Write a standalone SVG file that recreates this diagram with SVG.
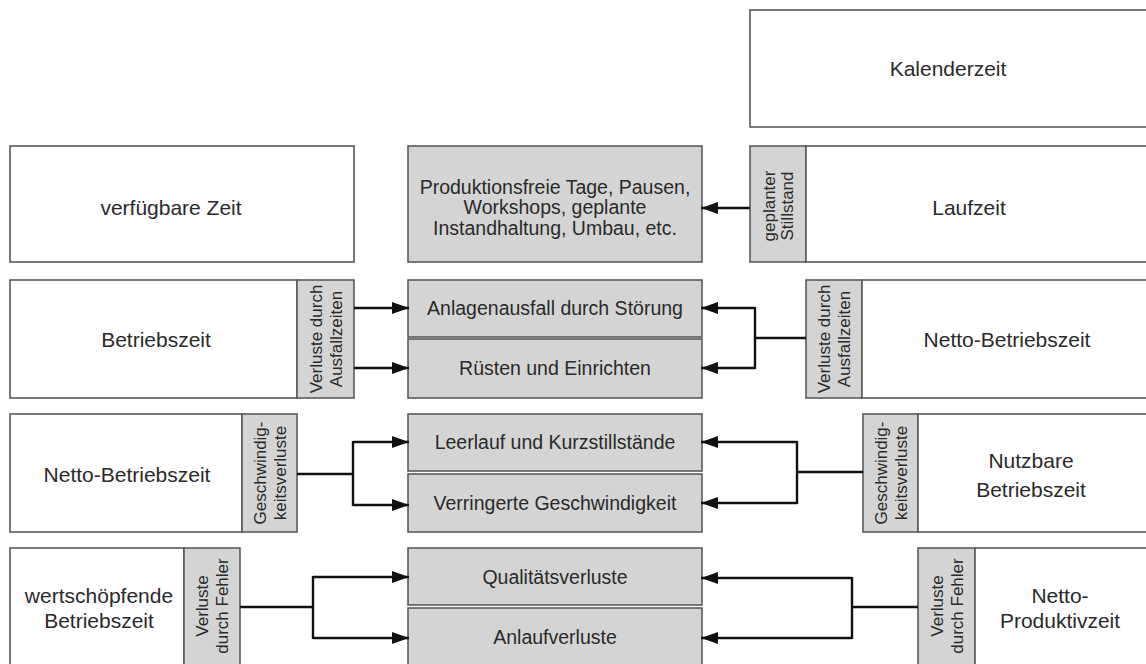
<svg xmlns="http://www.w3.org/2000/svg" width="1146" height="664" viewBox="0 0 1146 664">
  <defs>
    <marker id="arrow" markerUnits="userSpaceOnUse" markerWidth="18" markerHeight="14" refX="17" refY="7" orient="auto">
      <path d="M0,1 L17,7 L0,13 z" fill="#111"/>
    </marker>
    <style>
      .box { fill: #ffffff; stroke: #5a5a5a; stroke-width: 1.6; }
      .loss { fill: #d4d4d4; stroke: #5a5a5a; stroke-width: 1.6; }
      .main { font-family: "Liberation Sans", Arial, sans-serif; font-size: 21px; fill: #2a2a2a; text-anchor: middle; }
      .cause { font-family: "Liberation Sans", Arial, sans-serif; font-size: 19.5px; fill: #2a2a2a; text-anchor: middle; }
      .tag { font-family: "Liberation Sans", Arial, sans-serif; font-size: 17px; fill: #2a2a2a; text-anchor: middle; }
      .link { fill: none; stroke: #111; stroke-width: 2.4; }
      .arr { fill: none; stroke: #111; stroke-width: 2.4; marker-end: url(#arrow); }
    </style>
  </defs>
  <rect width="1146" height="664" fill="#ffffff"/>

  <!-- row 1 -->
  <g id="kalenderzeit">
    <rect class="box" x="750" y="10" width="400" height="117"/>
    <text class="main" x="948" y="76">Kalenderzeit</text>
  </g>
  <g id="verfuegbare-zeit">
    <rect class="box" x="10" y="146" width="344" height="116"/>
    <text class="main" x="171" y="215">verfügbare Zeit</text>
  </g>
  <g id="produktionsfreie-tage">
    <rect class="loss" x="408" y="146" width="294" height="116"/>
    <text class="cause" x="555" y="194">Produktionsfreie Tage, Pausen,</text>
    <text class="cause" x="555" y="214">Workshops, geplante</text>
    <text class="cause" x="555" y="235">Instandhaltung, Umbau, etc.</text>
  </g>
  <g id="laufzeit">
    <rect class="loss" x="750" y="146" width="56" height="116"/>
    <rect class="box" x="806" y="146" width="344" height="116"/>
    <g transform="translate(778,206) rotate(-90)">
      <text class="tag" x="0" y="-3">geplanter</text>
      <text class="tag" x="0" y="15">Stillstand</text>
    </g>
    <text class="main" x="969" y="215">Laufzeit</text>
  </g>

  <!-- row 2 -->
  <g id="betriebszeit">
    <rect class="box" x="10" y="280" width="287" height="118"/>
    <rect class="loss" x="297" y="280" width="57" height="118"/>
    <text class="main" x="156" y="347">Betriebszeit</text>
    <g transform="translate(325.5,339) rotate(-90)">
      <text class="tag" x="0" y="-4">Verluste durch</text>
      <text class="tag" x="0" y="16">Ausfallzeiten</text>
    </g>
  </g>
  <g id="anlagenausfall">
    <rect class="loss" x="408" y="280" width="294" height="57"/>
    <text class="cause" x="555" y="315">Anlagenausfall durch Störung</text>
  </g>
  <g id="ruesten">
    <rect class="loss" x="408" y="339" width="294" height="59"/>
    <text class="cause" x="555" y="375">Rüsten und Einrichten</text>
  </g>
  <g id="netto-betriebszeit-a">
    <rect class="loss" x="806" y="280" width="56" height="118"/>
    <rect class="box" x="862" y="280" width="288" height="118"/>
    <g transform="translate(834,339) rotate(-90)">
      <text class="tag" x="0" y="-4">Verluste durch</text>
      <text class="tag" x="0" y="16">Ausfallzeiten</text>
    </g>
    <text class="main" x="1007" y="347">Netto-Betriebszeit</text>
  </g>

  <!-- row 3 -->
  <g id="netto-betriebszeit-b">
    <rect class="box" x="10" y="414" width="232" height="118"/>
    <rect class="loss" x="242" y="414" width="55" height="118"/>
    <text class="main" x="127" y="482">Netto-Betriebszeit</text>
    <g transform="translate(269.5,473) rotate(-90)">
      <text class="tag" x="0" y="-4">Geschwindig-</text>
      <text class="tag" x="0" y="16">keitsverluste</text>
    </g>
  </g>
  <g id="leerlauf">
    <rect class="loss" x="408" y="414" width="294" height="57"/>
    <text class="cause" x="555" y="449">Leerlauf und Kurzstillstände</text>
  </g>
  <g id="verringerte-geschwindigkeit">
    <rect class="loss" x="408" y="474" width="294" height="58"/>
    <text class="cause" x="555" y="510">Verringerte Geschwindigkeit</text>
  </g>
  <g id="nutzbare-betriebszeit">
    <rect class="loss" x="863" y="414" width="55" height="118"/>
    <rect class="box" x="918" y="414" width="232" height="118"/>
    <g transform="translate(890.5,473) rotate(-90)">
      <text class="tag" x="0" y="-4">Geschwindig-</text>
      <text class="tag" x="0" y="16">keitsverluste</text>
    </g>
    <text class="main" x="1031" y="468">Nutzbare</text>
    <text class="main" x="1031" y="497">Betriebszeit</text>
  </g>

  <!-- row 4 -->
  <g id="wertschoepfende-betriebszeit">
    <rect class="box" x="10" y="548" width="174" height="130"/>
    <rect class="loss" x="184" y="548" width="56" height="130"/>
    <text class="main" x="99" y="603">wertschöpfende</text>
    <text class="main" x="99" y="628">Betriebszeit</text>
    <g transform="translate(212,606) rotate(-90)">
      <text class="tag" x="0" y="-4">Verluste</text>
      <text class="tag" x="0" y="16">durch Fehler</text>
    </g>
  </g>
  <g id="qualitaetsverluste">
    <rect class="loss" x="408" y="548" width="294" height="57"/>
    <text class="cause" x="555" y="584">Qualitätsverluste</text>
  </g>
  <g id="anlaufverluste">
    <rect class="loss" x="408" y="608" width="294" height="70"/>
    <text class="cause" x="555" y="644">Anlaufverluste</text>
  </g>
  <g id="netto-produktivzeit">
    <rect class="loss" x="918" y="548" width="57" height="130"/>
    <rect class="box" x="975" y="548" width="175" height="130"/>
    <g transform="translate(946.5,606) rotate(-90)">
      <text class="tag" x="0" y="-4">Verluste</text>
      <text class="tag" x="0" y="16">durch Fehler</text>
    </g>
    <text class="main" x="1060" y="603">Netto-</text>
    <text class="main" x="1060" y="628">Produktivzeit</text>
  </g>

  <!-- connectors -->
  <g id="connectors">
    <path class="arr" d="M750,208 H701"/>

    <path class="arr" d="M354,308 H409"/>
    <path class="arr" d="M354,368 H409"/>
    <path class="link" d="M806,338 H755 M755,307 V369"/>
    <path class="arr" d="M755,308 H701"/>
    <path class="arr" d="M755,368 H701"/>

    <path class="link" d="M297,474 H353 M353,441 V506"/>
    <path class="arr" d="M353,442 H409"/>
    <path class="arr" d="M353,505 H409"/>
    <path class="link" d="M863,472 H797 M797,441 V504"/>
    <path class="arr" d="M797,442 H701"/>
    <path class="arr" d="M797,503 H701"/>

    <path class="link" d="M240,607 H313 M313,576 V639"/>
    <path class="arr" d="M313,577 H409"/>
    <path class="arr" d="M313,638 H409"/>
    <path class="link" d="M918,607 H852 M852,577 V639"/>
    <path class="arr" d="M852,578 H701"/>
    <path class="arr" d="M852,638 H701"/>
  </g>
</svg>
